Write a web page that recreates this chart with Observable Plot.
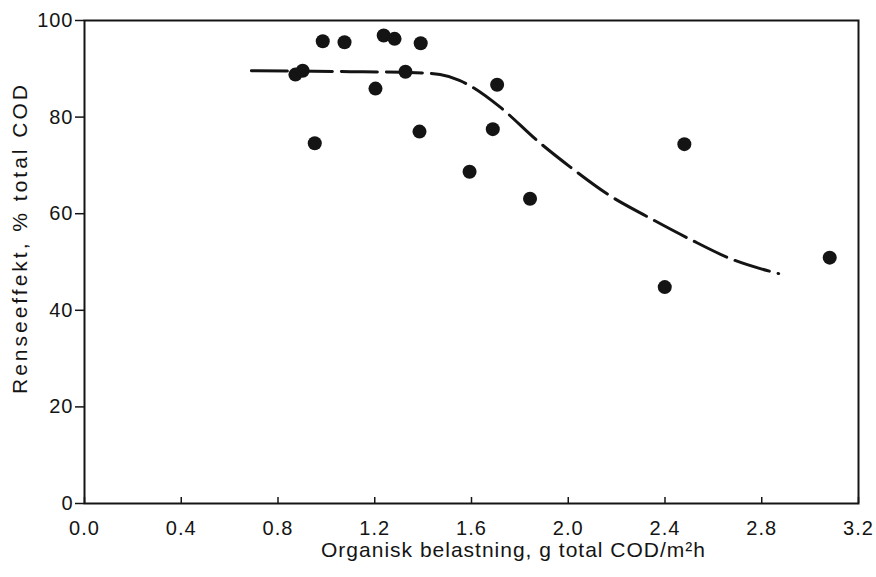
<!DOCTYPE html>
<html>
<head>
<meta charset="utf-8">
<script src="https://cdn.jsdelivr.net/npm/d3@7"></script>
<script src="https://cdn.jsdelivr.net/npm/@observablehq/plot@0.6"></script>
<style>
  html, body { margin: 0; padding: 0; background: #fff; }
  svg { display: block; }
</style>
</head>
<body>
<div id="chart"></div>
<script>
// Observed points
const loadX = [0.872, 0.902, 0.952, 0.985, 1.075, 1.203, 1.237, 1.282, 1.327, 1.390, 1.385, 1.592, 1.706, 1.688, 1.842, 2.399, 2.480, 3.081];
const effY  = [88.8, 89.6, 74.6, 95.7, 95.5, 85.9, 96.9, 96.2, 89.4, 95.3, 77.0, 68.7, 86.7, 77.5, 63.1, 44.8, 74.4, 50.9];

// Fitted dashed curve
const curveX = [0.69, 1.10, 1.37, 1.47, 1.55, 1.59, 1.72, 1.87, 2.01, 2.17, 2.33, 2.50, 2.68, 2.87];
const curveY = [89.6, 89.4, 89.2, 88.8, 87.6, 86.6, 82.0, 75.2, 69.6, 63.8, 59.3, 54.8, 50.5, 47.6];

// Ticks and labels
const xTicks = [0.0, 0.4, 0.8, 1.2, 1.6, 2.0, 2.4, 2.8, 3.2];
const yTicks = [0, 20, 40, 60, 80, 100];
const xLabel = "Organisk belastning, g total COD/m²h";
const yLabel = "Renseeffekt, % total COD";

const points = loadX.map((x, i) => ({x, y: effY[i]}));
const curve = curveX.map((x, i) => ({x, y: curveY[i]}));

const ink = "#141414";

const chart = Plot.plot({
  width: 876,
  height: 577,
  marginLeft: 84,
  marginRight: 18,
  marginTop: 20,
  marginBottom: 74,
  style: {fontFamily: "'Liberation Sans', Arial, sans-serif", fontSize: "20px", color: ink, background: "#fff"},
  x: {domain: [0, 3.2]},
  y: {domain: [0, 100]},
  marks: [
    Plot.line(curve, {x: "x", y: "y", curve: "monotone-x", stroke: ink, strokeWidth: 3, strokeDasharray: "36,9"}),
    Plot.dot(points, {x: "x", y: "y", r: 7, fill: ink, stroke: "none"}),
    Plot.frame({stroke: ink, strokeWidth: 2}),
    Plot.axisY(yTicks, {tickSize: 9, tickPadding: 2, tickFormat: d => String(d), label: null, fontSize: 20, stroke: ink, strokeWidth: 1.5}),
    Plot.axisX(xTicks, {tickSize: -6, tickFormat: () => "", label: null, stroke: ink, strokeWidth: 1.5}),
    Plot.axisX(xTicks, {tickSize: 0, tickPadding: 17, tickFormat: d => d.toFixed(1), label: null, fontSize: 20}),
    Plot.text([xLabel], {frameAnchor: "bottom", text: d => d, textAnchor: "middle", dx: 42, dy: 47, lineAnchor: "middle", fontSize: 21, fill: ink}),
    Plot.text([yLabel], {frameAnchor: "left", text: d => d, textAnchor: "middle", rotate: -90, dx: -64, dy: -24, lineAnchor: "middle", fontSize: 21, fill: ink, className: "ylab"})
  ]
});

d3.select(chart).selectAll("text").style("letter-spacing", "1px");
d3.select(chart).selectAll(".ylab text").style("letter-spacing", "3px");
document.getElementById("chart").appendChild(chart);
</script>
</body>
</html>
